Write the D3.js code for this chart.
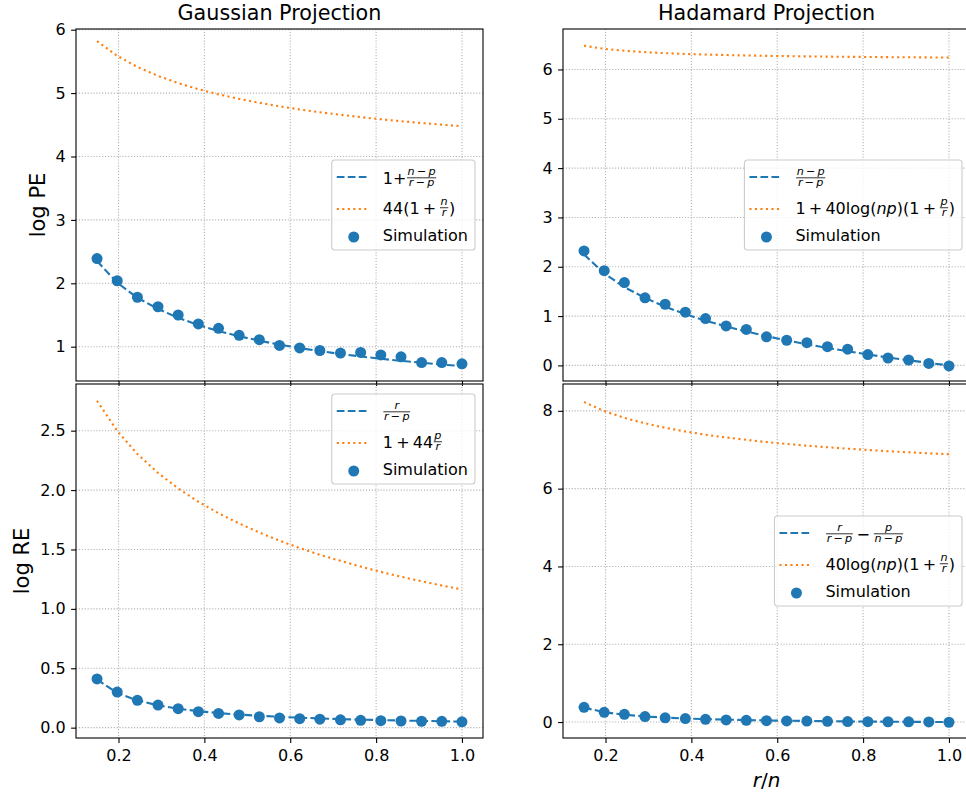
<!DOCTYPE html>
<html><head><meta charset="utf-8">
<script src="https://cdn.jsdelivr.net/npm/d3@7"></script>
<style>
body{margin:0;background:#fff}
svg text{font-family:"DejaVu Sans",sans-serif;white-space:pre}
</style>
</head><body>
<svg id="c" width="966" height="796"></svg>
<script>
// ---------------- data ----------------
const ratio = [0.15, 0.197, 0.244, 0.292, 0.339, 0.386, 0.433, 0.481, 0.528, 0.575, 0.622, 0.669, 0.717, 0.764, 0.811, 0.858, 0.906, 0.953, 1.0];

const gaussPESim    = [2.39, 2.04, 1.78, 1.63, 1.50, 1.36, 1.29, 1.18, 1.11, 1.02, 0.98, 0.94, 0.90, 0.91, 0.87, 0.84, 0.75, 0.75, 0.73];
const gaussPETheory = [2.351, 2.009, 1.773, 1.596, 1.456, 1.342, 1.246, 1.165, 1.095, 1.033, 0.978, 0.930, 0.886, 0.846, 0.810, 0.777, 0.747, 0.719, 0.693];
const gaussPEBound  = [5.821, 5.588, 5.412, 5.272, 5.158, 5.062, 4.980, 4.909, 4.847, 4.792, 4.742, 4.698, 4.658, 4.621, 4.588, 4.557, 4.528, 4.502, 4.477];

const hadPESim    = [2.32, 1.92, 1.68, 1.37, 1.24, 1.08, 0.95, 0.80, 0.73, 0.58, 0.51, 0.46, 0.38, 0.33, 0.22, 0.15, 0.11, 0.04, -0.01];
const hadPETheory = [2.251, 1.865, 1.586, 1.369, 1.190, 1.039, 0.908, 0.791, 0.687, 0.593, 0.507, 0.428, 0.354, 0.286, 0.222, 0.161, 0.104, 0.051, 0.0];
const hadPEBound  = [6.480, 6.418, 6.379, 6.351, 6.330, 6.314, 6.302, 6.292, 6.283, 6.276, 6.270, 6.265, 6.260, 6.256, 6.253, 6.249, 6.247, 6.244, 6.242];

const gaussRESim    = [0.41, 0.30, 0.23, 0.19, 0.16, 0.135, 0.12, 0.107, 0.092, 0.082, 0.076, 0.071, 0.066, 0.062, 0.059, 0.056, 0.054, 0.053, 0.049];
const gaussRETheory = [0.405, 0.292, 0.229, 0.188, 0.160, 0.139, 0.123, 0.110, 0.100, 0.091, 0.084, 0.078, 0.072, 0.068, 0.064, 0.060, 0.057, 0.054, 0.051];
const gaussREBound  = [2.752, 2.498, 2.303, 2.145, 2.014, 1.902, 1.805, 1.719, 1.643, 1.574, 1.512, 1.455, 1.404, 1.356, 1.312, 1.271, 1.232, 1.197, 1.163];

const hadRESim    = [0.38, 0.25, 0.20, 0.14, 0.11, 0.09, 0.07, 0.055, 0.045, 0.035, 0.03, 0.025, 0.02, 0.012, 0.01, 0.008, 0.005, 0.002, -0.005];
const hadRETheory = [0.370, 0.252, 0.186, 0.144, 0.114, 0.092, 0.075, 0.062, 0.051, 0.042, 0.034, 0.028, 0.022, 0.017, 0.013, 0.009, 0.006, 0.003, 0.0];
const hadREBound  = [8.228, 7.994, 7.818, 7.679, 7.565, 7.469, 7.387, 7.316, 7.254, 7.198, 7.149, 7.105, 7.064, 7.028, 6.994, 6.963, 6.935, 6.908, 6.884];

const xTicks = [0.2, 0.4, 0.6, 0.8, 1.0];
const yTicksGaussPE = [1, 2, 3, 4, 5, 6];
const yTicksHadPE = [0, 1, 2, 3, 4, 5, 6];
const yTicksGaussRE = [0.0, 0.5, 1.0, 1.5, 2.0, 2.5];
const yTicksHadRE = [0, 2, 4, 6, 8];

const titles = ["Gaussian Projection", "Hadamard Projection"];
const yLabels = ["log PE", "log RE"];
const xLabel = "$r/n$";

const labelsGaussPE = ["1+$\\frac{n-p}{r-p}$", "$44(1+\\frac{n}{r})$", "Simulation"];
const labelsHadPE   = ["$\\frac{n-p}{r-p}$", "$1+40\\log(np)(1+\\frac{p}{r})$", "Simulation"];
const labelsGaussRE = ["$\\frac{r}{r-p}$", "$1+44\\frac{p}{r}$", "Simulation"];
const labelsHadRE   = ["$\\frac{r}{r-p}-\\frac{p}{n-p}$", "$40\\log(np)(1+\\frac{n}{r})$", "Simulation"];

// ---------------- mini math parser ----------------
function parseMath(str) {
  let i = 0;
  function group() { i++; const out = seq('}'); i++; return out; }
  function seq(end) {
    const runs = [];
    while (i < str.length && str[i] !== end) {
      const c = str[i];
      if (str.startsWith("\\frac", i)) { i += 5; const num = group(); const den = group(); runs.push({num, den}); }
      else if (str.startsWith("\\log", i)) { i += 4; runs.push({s: "log"}); }
      else if (c === '+') { i++; runs.push({s: "+", op: true}); }
      else if (c === '-') { i++; runs.push({s: "\u2212", op: true}); }
      else if (/[a-zA-Z]/.test(c)) { i++; runs.push({s: c, i: true}); }
      else { i++; runs.push({s: c}); }
    }
    return runs;
  }
  return seq(undefined);
}
function parseLabel(label) {
  const parts = label.split('$');
  let runs = [];
  parts.forEach((p, k) => {
    if (!p) return;
    if (k % 2 === 0) runs.push({s: p});
    else runs = runs.concat(parseMath(p));
  });
  return runs;
}
function drawRuns(g, runs, size) {
  let x = 0;
  runs.forEach(r => {
    if (r.num) {
      const fs = size * 0.7;
      const gn = g.append('g'), gd = g.append('g');
      const wn = drawRuns(gn, r.num, fs), wd = drawRuns(gd, r.den, fs);
      const w = Math.max(wn, wd) + 2.4;
      const bar = -size * 0.36;
      gn.attr('transform', `translate(${x + (w - wn) / 2},${bar - 2.6})`);
      gd.attr('transform', `translate(${x + (w - wd) / 2},${bar + 8.2})`);
      g.append('line').attr('x1', x + 0.6).attr('x2', x + w - 0.6)
        .attr('y1', bar).attr('y2', bar).attr('stroke', '#000').attr('stroke-width', 0.8);
      x += w;
    } else {
      if (r.op) x += 0.2 * size;
      const t = g.append('text').attr('x', x).attr('y', 0).attr('font-size', size)
        .attr('font-style', r.i ? 'italic' : 'normal').attr('fill', '#000').text(r.s);
      x += t.node().getComputedTextLength();
      if (r.op) x += 0.2 * size;
    }
  });
  return x;
}

// ---------------- layout ----------------
const svg = d3.select('#c');
const colL = [76, 483], colR = [563, 970];
const rowT = [29, 381], rowB = [384, 738];
const xDomain = [0.101, 1.049];
const blue = '#1f77b4', orange = '#ff7f0e';
const FS = 16;

const panels = [
  {col: colL, row: rowT, yDomain: [0.459, 6.011], yTicks: yTicksGaussPE, fmt: d3.format('d'),
   sim: gaussPESim, theory: gaussPETheory, bound: gaussPEBound, labels: labelsGaussPE, loc: 'center',
   title: titles[0], ylabel: yLabels[0], ylabelX: 45, showX: false},
  {col: colR, row: rowT, yDomain: [-0.316, 6.82], yTicks: yTicksHadPE, fmt: d3.format('d'),
   sim: hadPESim, theory: hadPETheory, bound: hadPEBound, labels: labelsHadPE, loc: 'center',
   title: titles[1], showX: false},
  {col: colL, row: rowB, yDomain: [-0.087, 2.893], yTicks: yTicksGaussRE, fmt: d3.format('.1f'),
   sim: gaussRESim, theory: gaussRETheory, bound: gaussREBound, labels: labelsGaussRE, loc: 'upper',
   ylabel: yLabels[1], ylabelX: 29, showX: true},
  {col: colR, row: rowB, yDomain: [-0.41, 8.69], yTicks: yTicksHadRE, fmt: d3.format('d'),
   sim: hadRESim, theory: hadRETheory, bound: hadREBound, labels: labelsHadRE, loc: 'center',
   showX: true, xlabel: true}
];

function styleAxis(a) {
  a.select('.domain').remove();
  a.attr('font-size', FS).attr('font-family', '"DejaVu Sans",sans-serif');
  a.selectAll('.tick line').attr('stroke', '#000').attr('stroke-width', 1.1);
  a.selectAll('.tick text').attr('fill', '#000');
}

panels.forEach(p => {
  const x = d3.scaleLinear().domain(xDomain).range(p.col);
  const y = d3.scaleLinear().domain(p.yDomain).range([p.row[1], p.row[0]]);
  const g = svg.append('g');

  // grid
  const grid = g.append('g').attr('stroke', '#b0b0b0').attr('stroke-width', 1.1).attr('stroke-dasharray', '1.1,1.8');
  grid.selectAll('.gx').data(xTicks).join('line').attr('class', 'gx')
    .attr('x1', d => x(d)).attr('x2', d => x(d)).attr('y1', p.row[0]).attr('y2', p.row[1]);
  grid.selectAll('.gy').data(p.yTicks).join('line').attr('class', 'gy')
    .attr('x1', p.col[0]).attr('x2', p.col[1]).attr('y1', d => y(d)).attr('y2', d => y(d));

  // axes
  g.append('g').attr('transform', `translate(${p.col[0]},0)`)
    .call(d3.axisLeft(y).tickValues(p.yTicks).tickFormat(p.fmt).tickSize(4.9).tickPadding(5.5))
    .call(styleAxis);
  g.append('g').attr('transform', `translate(0,${p.row[1]})`)
    .call(d3.axisBottom(x).tickValues(xTicks).tickFormat(p.showX ? d3.format('.1f') : () => '').tickSize(4.9).tickPadding(7))
    .call(styleAxis);

  // data
  g.append('g').selectAll('circle').data(p.sim).join('circle')
    .attr('cx', (d, i) => x(ratio[i])).attr('cy', d => y(d)).attr('r', 5.5).attr('fill', blue);
  const line = d3.line().x((d, i) => x(ratio[i])).y(d => y(d));
  g.append('path').datum(p.theory).attr('d', line).attr('fill', 'none').attr('stroke', blue)
    .attr('stroke-width', 2.1).attr('stroke-dasharray', '7.7,3.3');
  g.append('path').datum(p.bound).attr('d', line).attr('fill', 'none').attr('stroke', orange)
    .attr('stroke-width', 2.1).attr('stroke-dasharray', '2.1,3.4');

  // frame
  g.append('rect').attr('x', p.col[0]).attr('y', p.row[0]).attr('width', p.col[1] - p.col[0])
    .attr('height', p.row[1] - p.row[0]).attr('fill', 'none').attr('stroke', '#000').attr('stroke-width', 1.1);

  // legend
  const lg = g.append('g');
  const box = lg.append('rect');
  const rowsY = [17, 49, 77];
  let maxW = 0;
  const items = lg.append('g');
  p.labels.forEach((lab, k) => {
    const runs = parseLabel(lab);
    const hasFrac = runs.some(r => r.num);
    const tall = runs.some(r => r.num && r.den.length > 1);
    const off = tall ? 0.8 + FS * 0.36 : (hasFrac ? 4.5 : 4.2);
    const tg = items.append('g').attr('transform', `translate(51,${rowsY[k] + off})`);
    drawRuns(tg, runs, FS);
    const bb = tg.node().getBBox();
    maxW = Math.max(maxW, bb.x + bb.width);
    if (k === 0) items.append('line').attr('x1', 5).attr('x2', 38).attr('y1', rowsY[k]).attr('y2', rowsY[k])
      .attr('stroke', blue).attr('stroke-width', 2.1).attr('stroke-dasharray', '7.7,3.3');
    if (k === 1) items.append('line').attr('x1', 5).attr('x2', 38).attr('y1', rowsY[k]).attr('y2', rowsY[k])
      .attr('stroke', orange).attr('stroke-width', 2.1).attr('stroke-dasharray', '2.1,3.4');
    if (k === 2) items.append('circle').attr('cx', 22).attr('cy', rowsY[k]).attr('r', 5.5).attr('fill', blue);
  });
  const bw = 51 + maxW + 7, bh = 90;
  box.attr('x', 0).attr('y', 0).attr('width', bw).attr('height', bh).attr('rx', 3)
    .attr('fill', '#fff').attr('fill-opacity', 0.8).attr('stroke', '#cccccc').attr('stroke-width', 1.1);
  const lx = p.col[1] - 8 - bw;
  const ly = p.loc === 'upper' ? p.row[0] + 10 : (p.row[0] + p.row[1]) / 2 - bh / 2;
  lg.attr('transform', `translate(${lx},${ly})`);

  // titles and labels
  if (p.title) svg.append('text').attr('x', (p.col[0] + p.col[1]) / 2).attr('y', 19.5)
    .attr('text-anchor', 'middle').attr('font-size', 20.7).attr('fill', '#000').text(p.title);
  if (p.ylabel) svg.append('text')
    .attr('transform', `translate(${p.ylabelX},${(p.row[0] + p.row[1]) / 2}) rotate(-90)`)
    .attr('text-anchor', 'middle').attr('font-size', 21).attr('fill', '#000').text(p.ylabel);
  if (p.xlabel) {
    const xg = svg.append('g');
    const w = drawRuns(xg, parseLabel(xLabel), 20);
    xg.attr('transform', `translate(${(p.col[0] + p.col[1]) / 2 - w / 2},787)`);
  }
});
</script>
</body></html>
